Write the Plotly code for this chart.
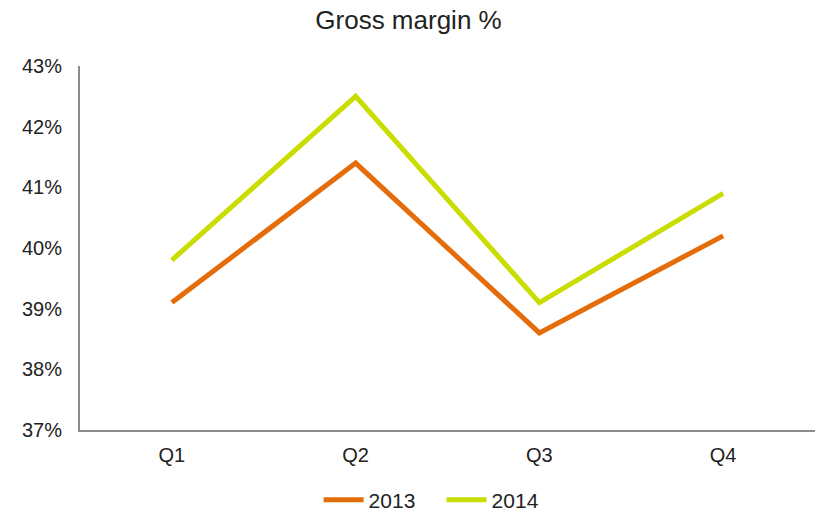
import plotly.graph_objects as go

quarters = ["Q1", "Q2", "Q3", "Q4"]
margin_2013 = [39.1, 41.4, 38.6, 40.2]
margin_2014 = [39.8, 42.5, 39.1, 40.9]

fig = go.Figure()
fig.add_trace(go.Scatter(x=quarters, y=margin_2013, mode="lines", name="2013",
                         line=dict(color="#E46C0A", width=5)))
fig.add_trace(go.Scatter(x=quarters, y=margin_2014, mode="lines", name="2014",
                         line=dict(color="#C9DE00", width=5)))

font = "Liberation Sans, Arial, sans-serif"
fig.update_layout(
    width=817, height=516,
    margin=dict(l=80, r=2, t=66, b=86, autoexpand=False),
    paper_bgcolor="white", plot_bgcolor="white",
    title=dict(text="Gross margin %", x=0.5, xanchor="center", y=0.962, yanchor="middle",
               font=dict(family=font, size=26, color="#222")),
    font=dict(family=font, size=20, color="#222"),
    showlegend=True,
    legend=dict(orientation="h", x=0.492, xanchor="center", yref="container",
                y=0.031, yanchor="middle", font=dict(size=21), itemwidth=40,
                entrywidth=68, tracegroupgap=0),
    xaxis=dict(range=[-0.5, 3.5], showgrid=False, showline=True, linecolor="#8c8c8c",
               linewidth=2, ticks="", ticklabelstandoff=6, zeroline=False,
               automargin=False),
    yaxis=dict(range=[37, 43], dtick=1, ticksuffix="%", showgrid=False, showline=True,
               linecolor="#8c8c8c", linewidth=2, ticks="", ticklabelstandoff=12,
               zeroline=False, automargin=False),
)
fig.write_html("out.html")
